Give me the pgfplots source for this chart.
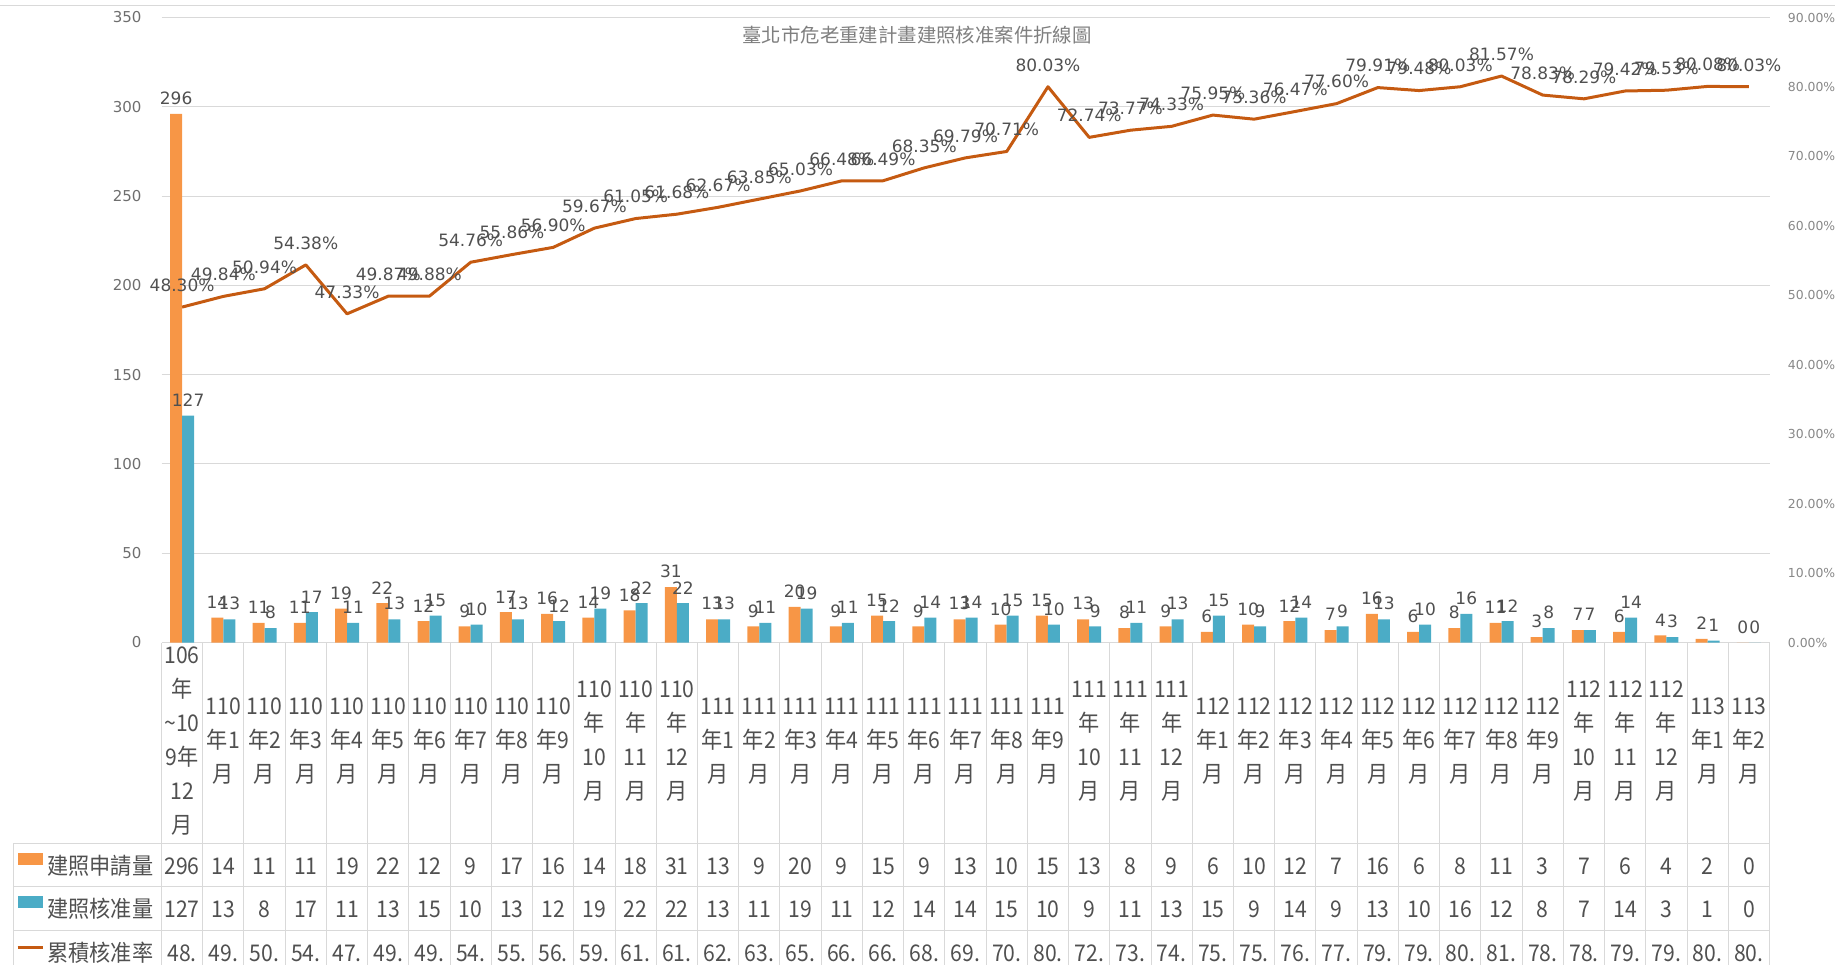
\documentclass[border=0pt]{standalone}
\usepackage{fontspec}
\usepackage{pgfplots}
\usepackage{pgfplotstable}
\pgfplotsset{compat=1.18}
\setmainfont{DejaVu Sans}
\newfontfamily\cjk{Noto Sans CJK TC}
\newfontfamily\cjkn[FakeStretch=0.92]{Noto Sans CJK TC}
\newfontfamily\dv{DejaVu Sans}
\definecolor{barA}{RGB}{247,150,70}
\definecolor{barB}{RGB}{75,172,198}
\definecolor{linec}{RGB}{197,90,17}
\definecolor{gridc}{RGB}{217,217,217}
\definecolor{labc}{RGB}{80,80,80}
\definecolor{tickc}{RGB}{110,110,110}
\definecolor{tickr}{RGB}{135,135,135}
\definecolor{titc}{RGB}{127,127,127}
\definecolor{tblc}{RGB}{80,80,80}
\pgfplotsset{/pgf/number format/assume math mode=true}
\newcommand\lab{\dv\fontsize{8.5}{10}\selectfont}
\newcommand\tbl{\cjkn\fontsize{11.5}{17}\selectfont}

\pgfplotstableread{
x apply approve rate
0 296 127 48.30
1 14 13 49.84
2 11 8 50.94
3 11 17 54.38
4 19 11 47.33
5 22 13 49.87
6 12 15 49.88
7 9 10 54.76
8 17 13 55.86
9 16 12 56.90
10 14 19 59.67
11 18 22 61.05
12 31 22 61.68
13 13 13 62.67
14 9 11 63.85
15 20 19 65.03
16 9 11 66.48
17 15 12 66.49
18 9 14 68.35
19 13 14 69.79
20 10 15 70.71
21 15 10 80.03
22 13 9 72.74
23 8 11 73.77
24 9 13 74.33
25 6 15 75.95
26 10 9 75.36
27 12 14 76.47
28 7 9 77.60
29 16 13 79.91
30 6 10 79.48
31 8 16 80.03
32 11 12 81.57
33 3 8 78.83
34 7 7 78.29
35 6 14 79.42
36 4 3 79.53
37 2 1 80.08
38 0 0 80.03
}\data

\begin{document}
\begin{tikzpicture}
\useasboundingbox (0,0) rectangle (917.5pt,482.5pt);
% top border
\draw[gridc, line width=0.5pt] (0pt,479.5pt) -- (917.5pt,479.5pt);
\node[font=\cjk\fontsize{9.7}{11}\selectfont, text=titc] at (458.5pt,465pt) {臺北市危老重建計畫建照核准案件折線圖};

\begin{axis}[
  at={(80.75pt,161.25pt)}, anchor=south west,
  scale only axis, width=804pt, height=312.5pt,
  xmin=-0.5, xmax=38.5, ymin=0, ymax=350,
  axis lines*=left, axis line style={draw=none},
  ytick={0,50,...,350}, ymajorgrids, grid style={gridc, line width=0.5pt},
  major tick length=0pt,
  yticklabel style={font=\dv\fontsize{7.5}{9}\selectfont, text=tickc, xshift=-6.5pt},
  xtick={0,...,38},
  xticklabels={
    {106\\年\\\textasciitilde10\\9年\\12\\月},
    {110\\年1\\月},{110\\年2\\月},{110\\年3\\月},{110\\年4\\月},{110\\年5\\月},{110\\年6\\月},{110\\年7\\月},{110\\年8\\月},{110\\年9\\月},
    {110\\年\\10\\月},{110\\年\\11\\月},{110\\年\\12\\月},
    {111\\年1\\月},{111\\年2\\月},{111\\年3\\月},{111\\年4\\月},{111\\年5\\月},{111\\年6\\月},{111\\年7\\月},{111\\年8\\月},{111\\年9\\月},
    {111\\年\\10\\月},{111\\年\\11\\月},{111\\年\\12\\月},
    {112\\年1\\月},{112\\年2\\月},{112\\年3\\月},{112\\年4\\月},{112\\年5\\月},{112\\年6\\月},{112\\年7\\月},{112\\年8\\月},{112\\年9\\月},
    {112\\年\\10\\月},{112\\年\\11\\月},{112\\年\\12\\月},
    {113\\年1\\月},{113\\年2\\月}},
  xticklabel style={font=\tbl, text=tblc, align=center, anchor=center, yshift=-49.25pt},
  clip=false,
]
\addplot[ybar, bar width=6pt, bar shift=-3pt, fill=barA, draw=none,
  nodes near coords, every node near coord/.append style={font=\lab, text=labc, xshift=-3pt, yshift=1pt}]
  table[x=x, y=apply] {\data};
\addplot[ybar, bar width=6pt, bar shift=3pt, fill=barB, draw=none,
  nodes near coords, every node near coord/.append style={font=\lab, text=labc, xshift=3pt, yshift=1pt}]
  table[x=x, y=approve] {\data};
% data table rows
\addplot[draw=none, point meta=explicit, nodes near coords,
  every node near coord/.style={anchor=center, font=\tbl, text=tblc, yshift=-111.75pt}]
  table[x=x, y expr=0, meta=apply] {\data};
\addplot[draw=none, point meta=explicit, nodes near coords,
  every node near coord/.style={anchor=center, font=\tbl, text=tblc, yshift=-133.25pt}]
  table[x=x, y expr=0, meta=approve] {\data};
\addplot[draw=none, point meta=explicit,
  nodes near coords={\pgfmathprintnumber[int trunc]{\pgfplotspointmeta}.},
  every node near coord/.style={anchor=center, font=\tbl, text=tblc, yshift=-155.25pt}]
  table[x=x, y expr=0, meta=rate] {\data};
\end{axis}

\begin{axis}[
  at={(80.75pt,161.25pt)}, anchor=south west,
  scale only axis, width=804pt, height=312.5pt,
  xmin=-0.5, xmax=38.5, ymin=0, ymax=90,
  axis x line=none, axis y line*=right, axis line style={draw=none},
  major tick length=0pt,
  ytick={0,10,...,90},
  yticklabels={0.00\%,10.00\%,20.00\%,30.00\%,40.00\%,50.00\%,60.00\%,70.00\%,80.00\%,90.00\%},
  yticklabel style={font=\dv\fontsize{6.2}{7}\selectfont, text=tickr, xshift=5.7pt},
  clip=false,
]
\addplot[linec, line width=1.5pt, mark=none, line join=round,
  nodes near coords={\pgfmathprintnumber[fixed,fixed zerofill,precision=2]{\pgfplotspointmeta}\%},
  every node near coord/.style={anchor=south, inner sep=0pt, yshift=7pt, font=\lab, text=labc}]
  table[x=x, y=rate] {\data};
\end{axis}

% table grid
\foreach \k in {0,...,39} {
  \draw[gridc, line width=0.5pt] ({80.75pt+20.615pt*\k},161.25pt) -- ({80.75pt+20.615pt*\k},0pt);
}
\foreach \yy in {61,39.5,17.5} {
  \draw[gridc, line width=0.5pt] (6.5pt,\yy pt) -- (884.75pt,\yy pt);
}
\draw[gridc, line width=0.5pt] (6.5pt,61pt) -- (6.5pt,0pt);
% legend keys in table
\fill[barA] (8.75pt,50pt) rectangle (21.5pt,56pt);
\node[anchor=west, font=\tbl, text=tblc, inner sep=0pt] at (23.5pt,49.5pt) {建照申請量};
\fill[barB] (8.75pt,28.5pt) rectangle (21.5pt,34.5pt);
\node[anchor=west, font=\tbl, text=tblc, inner sep=0pt] at (23.5pt,28pt) {建照核准量};
\draw[linec, line width=1.5pt] (8.75pt,9pt) -- (21.5pt,9pt);
\node[anchor=west, font=\tbl, text=tblc, inner sep=0pt] at (23.5pt,6pt) {累積核准率};
\end{tikzpicture}
\end{document}
